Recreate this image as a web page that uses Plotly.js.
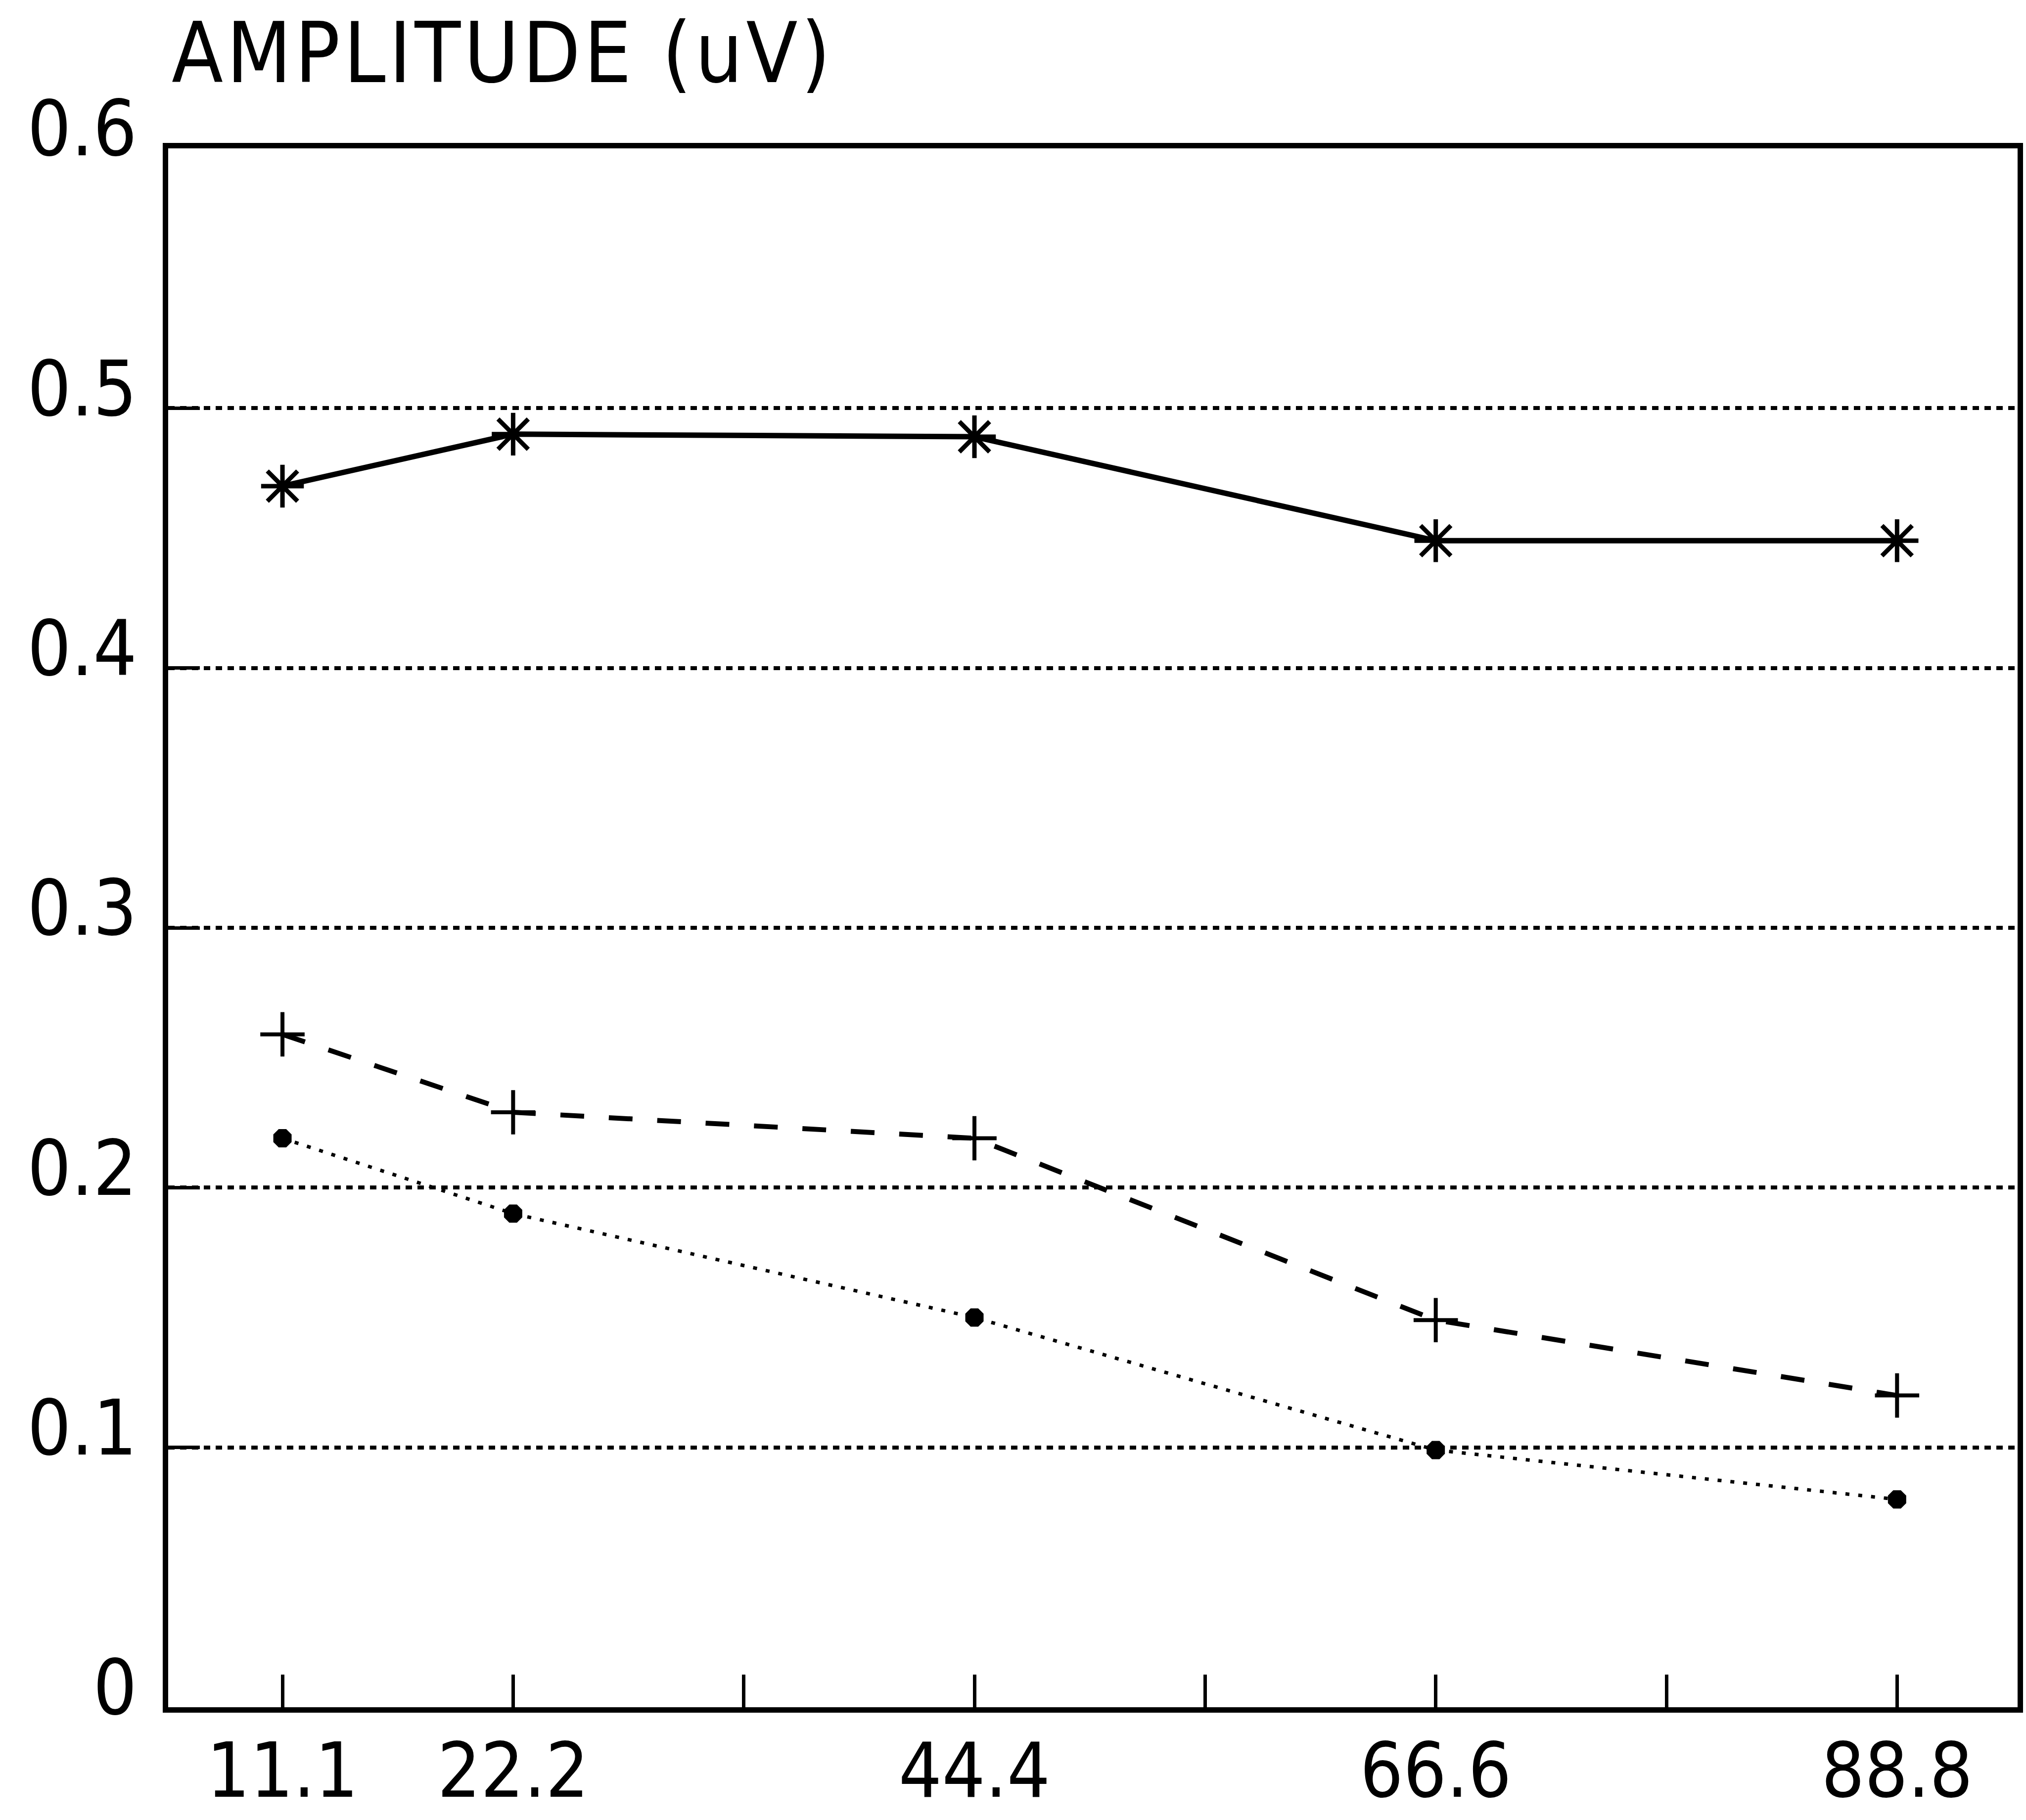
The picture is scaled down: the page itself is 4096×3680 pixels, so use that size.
<!DOCTYPE html>
<html>
<head>
<meta charset="utf-8">
<script src="https://cdn.plot.ly/plotly-3.0.1.min.js"></script>
<style>
  html, body { margin: 0; padding: 0; background: #ffffff; }
  #chart { width: 4096px; height: 3680px; }
  .gtitle { letter-spacing: 7px; }
</style>
</head>
<body>
<div id="chart"></div>
<script>
// ---- data ----
const frequencies = [11.1, 22.2, 44.4, 66.6, 88.8];
const seriesStar  = [0.470, 0.490, 0.489, 0.449, 0.449];
const seriesPlus  = [0.259, 0.229, 0.219, 0.149, 0.120];
const seriesDot   = [0.219, 0.190, 0.150, 0.099, 0.080];

const xTickVals = [11.1, 22.2, 33.3, 44.4, 55.5, 66.6, 77.7, 88.8];
const xTickText = ['11.1', '22.2', '', '44.4', '', '66.6', '', '88.8'];
const yTickVals = [0, 0.1, 0.2, 0.3, 0.4, 0.5, 0.6];
const yTickText = ['0', '0.1', '0.2', '0.3', '0.4', '0.5', '0.6'];
const titleText = 'AMPLITUDE (uV)';

const FONT = '"DejaVu Sans Condensed", "Liberation Sans Narrow", "DejaVu Sans", sans-serif';

const traces = [
  {
    x: frequencies, y: seriesStar, type: 'scatter', mode: 'lines+markers',
    line: { color: '#000', width: 11, dash: 'solid' },
    marker: { symbol: 'asterisk-open', size: 72, color: '#000', line: { color: '#000', width: 9 } },
    showlegend: false, hoverinfo: 'skip'
  },
  {
    x: frequencies, y: seriesPlus, type: 'scatter', mode: 'lines+markers',
    line: { color: '#000', width: 10, dash: '48px,50px' },
    marker: { symbol: 'cross-thin-open', size: 64, color: '#000', line: { color: '#000', width: 8 } },
    showlegend: false, hoverinfo: 'skip'
  },
  {
    x: frequencies, y: seriesDot, type: 'scatter', mode: 'lines+markers',
    line: { color: '#000', width: 7, dash: '8px,18px' },
    marker: { symbol: 'octagon', size: 40, color: '#000', line: { width: 0 } },
    showlegend: false, hoverinfo: 'skip'
  }
];

const layout = {
  width: 4096, height: 3680, autosize: false,
  paper_bgcolor: '#ffffff', plot_bgcolor: '#ffffff',
  margin: { l: 340, r: 17, t: 300, b: 228, pad: 0 },
  font: { family: FONT, color: '#000' },
  title: {
    text: titleText,
    font: { family: FONT, size: 169, color: '#000' },
    xref: 'container', yref: 'container',
    x: 0.0847, xanchor: 'left',
    y: 0.9709, yanchor: 'middle'
  },
  xaxis: {
    range: [5.6, 94.6],
    tickmode: 'array', tickvals: xTickVals, ticktext: xTickText,
    ticks: 'inside', ticklen: 66, tickwidth: 7, tickcolor: '#000',
    showline: true, linecolor: '#000', linewidth: 11, mirror: true,
    showgrid: false, zeroline: false,
    tickfont: { family: FONT, size: 153, color: '#000' },
    ticklabelstandoff: -14
  },
  yaxis: {
    range: [0, 0.6],
    tickmode: 'array', tickvals: yTickVals, ticktext: yTickText,
    ticks: 'inside', ticklen: 64, tickwidth: 7, tickcolor: '#000',
    showline: true, linecolor: '#000', linewidth: 11, mirror: true,
    showgrid: true, gridcolor: '#000', gridwidth: 8, griddash: '13px,11px',
    zeroline: false,
    tickfont: { family: FONT, size: 155, color: '#000' },
    ticklabelstandoff: 21, ticklabelshift: -40
  }
};

Plotly.newPlot('chart', traces, layout, { displayModeBar: false, staticPlot: true });
</script>
</body>
</html>
